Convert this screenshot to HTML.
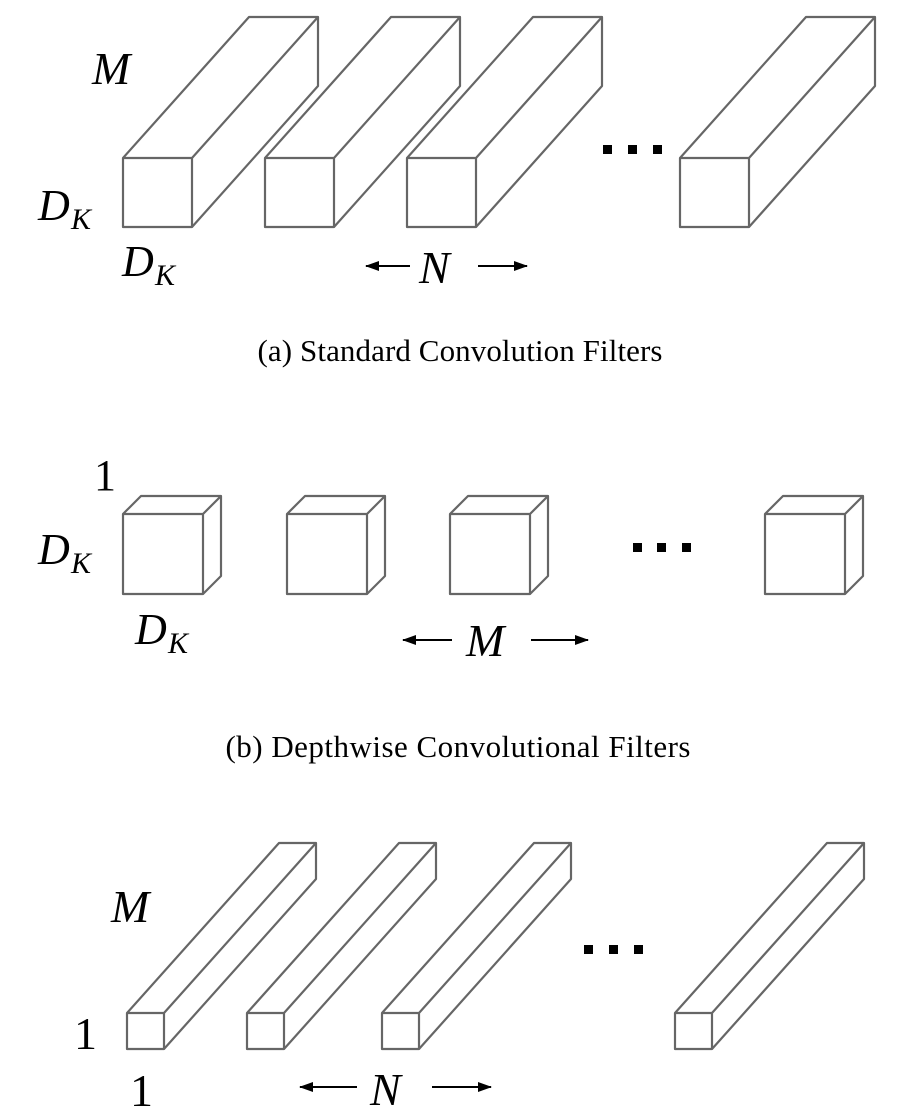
<!DOCTYPE html>
<html><head><meta charset="utf-8"><style>
html,body{margin:0;padding:0;background:#fff;}
svg{display:block;}
.b{fill:none;stroke:#666;stroke-width:2.2;stroke-linejoin:round;}
.m{font-family:"Liberation Serif",serif;font-style:italic;fill:#000;}
.r{font-family:"Liberation Serif",serif;fill:#000;}
</style></head><body>
<svg width="916" height="1120" viewBox="0 0 916 1120" xmlns="http://www.w3.org/2000/svg">
<defs><marker id="ah" markerWidth="14" markerHeight="10" refX="13" refY="5" orient="auto" markerUnits="userSpaceOnUse"><path d="M0,0 L14,5 L0,10 Z" fill="#000"/></marker></defs>
<!-- (a) -->
<g class="b">
<path d="M123,158h69v69h-69z M123,158L249,17H318L192,158 M318,17V86L192,227"/>
<path d="M265,158h69v69h-69z M265,158L391,17H460L334,158 M460,17V86L334,227"/>
<path d="M407,158h69v69h-69z M407,158L533,17H602L476,158 M602,17V86L476,227"/>
<path d="M680,158h69v69h-69z M680,158L806,17H875L749,158 M875,17V86L749,227"/>
</g>
<g fill="#000"><rect x="603" y="145" width="9" height="9"/><rect x="628" y="145" width="9" height="9"/><rect x="653" y="145" width="9" height="9"/></g>
<text class="m" x="92" y="84" font-size="46">M</text>
<text class="m" x="38" y="220" font-size="44">D</text><text class="m" x="71" y="229" font-size="30">K</text>
<text class="m" x="122" y="276" font-size="44">D</text><text class="m" x="155" y="285" font-size="30">K</text>
<line x1="410" y1="266" x2="366" y2="266" stroke="#000" stroke-width="2" marker-end="url(#ah)"/>
<text class="m" x="419" y="283" font-size="46">N</text>
<line x1="478" y1="266" x2="527" y2="266" stroke="#000" stroke-width="2" marker-end="url(#ah)"/>
<text class="r" x="460" y="361" font-size="31" text-anchor="middle" textLength="405">(a)  Standard Convolution Filters</text>
<!-- (b) -->
<g class="b">
<path d="M123,514h80v80h-80z M123,514L141,496H221L203,514 M221,496V576L203,594"/>
<path d="M287,514h80v80h-80z M287,514L305,496H385L367,514 M385,496V576L367,594"/>
<path d="M450,514h80v80h-80z M450,514L468,496H548L530,514 M548,496V576L530,594"/>
<path d="M765,514h80v80h-80z M765,514L783,496H863L845,514 M863,496V576L845,594"/>
</g>
<g fill="#000"><rect x="633" y="543" width="9" height="9"/><rect x="657" y="543" width="9" height="9"/><rect x="682" y="543" width="9" height="9"/></g>
<text class="r" x="94" y="490" font-size="44">1</text>
<text class="m" x="38" y="564" font-size="44">D</text><text class="m" x="71" y="573" font-size="30">K</text>
<text class="m" x="135" y="644" font-size="44">D</text><text class="m" x="168" y="653" font-size="30">K</text>
<line x1="452" y1="640" x2="403" y2="640" stroke="#000" stroke-width="2" marker-end="url(#ah)"/>
<text class="m" x="466" y="656" font-size="46">M</text>
<line x1="531" y1="640" x2="588" y2="640" stroke="#000" stroke-width="2" marker-end="url(#ah)"/>
<text class="r" x="458" y="757" font-size="31" text-anchor="middle" textLength="465">(b)  Depthwise Convolutional Filters</text>
<!-- (c) -->
<g class="b">
<path d="M127,1013h37v36h-37z M127,1013L279,843H316L164,1013 M316,843V879L164,1049"/>
<path d="M247,1013h37v36h-37z M247,1013L399,843H436L284,1013 M436,843V879L284,1049"/>
<path d="M382,1013h37v36h-37z M382,1013L534,843H571L419,1013 M571,843V879L419,1049"/>
<path d="M675,1013h37v36h-37z M675,1013L827,843H864L712,1013 M864,843V879L712,1049"/>
</g>
<g fill="#000"><rect x="584" y="945" width="9" height="9"/><rect x="609" y="945" width="9" height="9"/><rect x="634" y="945" width="9" height="9"/></g>
<text class="m" x="111" y="922" font-size="46">M</text>
<text class="r" x="74" y="1049" font-size="46">1</text>
<text class="r" x="130" y="1106" font-size="46">1</text>
<line x1="357" y1="1087" x2="300" y2="1087" stroke="#000" stroke-width="2" marker-end="url(#ah)"/>
<text class="m" x="370" y="1105" font-size="46">N</text>
<line x1="432" y1="1087" x2="491" y2="1087" stroke="#000" stroke-width="2" marker-end="url(#ah)"/>
</svg>
</body></html>
